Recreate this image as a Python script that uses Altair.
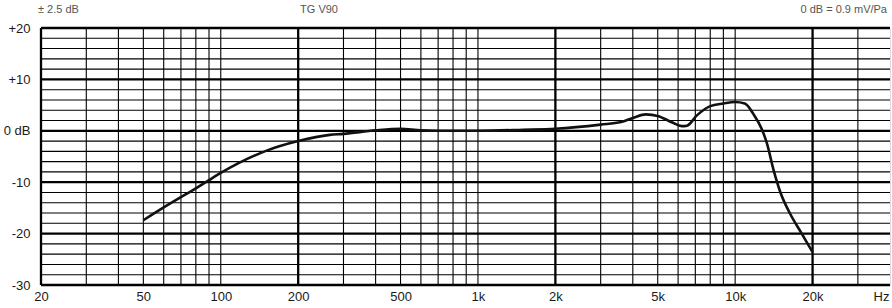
import altair as alt
import pandas as pd

# Frequency response curve (Hz, dB)
freq = [50, 60, 70, 80, 90, 100, 150, 200, 265, 300, 400, 500, 600, 800, 1000,
        1500, 2000, 3000, 3600, 4000, 4500, 5000, 5700, 6200, 6500, 7100, 8000,
        9000, 10000, 10900, 11800, 12700, 13300, 14100, 15000, 16300, 18100, 20000]
level = [-17.4, -14.9, -12.9, -11.2, -9.6, -8.2, -3.9, -2.0, -0.8, -0.6, 0.1, 0.4,
         0.1, 0.0, 0.0, 0.2, 0.4, 1.2, 1.7, 2.5, 3.2, 2.9, 1.6, 0.9, 1.0, 3.0, 4.8,
         5.3, 5.6, 5.3, 3.2, 0.3, -2.5, -7.6, -12.0, -16.0, -19.9, -23.6]

# Grid
grid_db_thin = [-28, -26, -24, -22, -18, -16, -14, -12, -8, -6, -4, -2,
                2, 4, 6, 8, 12, 14, 16, 18]
grid_db_thick = [-30, -20, -10, 0, 10, 20]
grid_hz_thin = [30, 40, 50, 60, 70, 80, 90, 100,
                300, 400, 500, 600, 700, 800, 900, 1000,
                3000, 4000, 5000, 6000, 7000, 8000, 9000, 10000, 30000]
grid_hz_thick = [20, 200, 2000, 20000]

# Axis labels
x_tick_values = [20, 50, 100, 200, 500, 1000, 2000, 5000, 10000, 20000, 36900]
y_tick_values = [-30, -20, -10, 0, 10, 20]

# Header texts
header_left = "± 2.5 dB"
header_center = "TG V90"
header_right = "0 dB = 0.9 mV/Pa"

xdom = [20, 40000]
ydom = [-30, 20]

xs = alt.Scale(type="log", domain=xdom, nice=False)
ys = alt.Scale(domain=ydom, nice=False, zero=False)

x_axis = alt.Axis(
    values=x_tick_values,
    labelExpr="datum.value > 30000 ? 'Hz' : (datum.value >= 1000 ? (datum.value/1000) + 'k' : '' + datum.value)",
    domain=False, ticks=False, grid=False, title=None,
    labelFlush=False, labelOverlap=False, labelPadding=5,
    labelFontSize=13, labelColor="#1a1a1a", labelFont="Liberation Sans",
)
y_axis = alt.Axis(
    values=y_tick_values,
    labelExpr="datum.value == 0 ? '0 dB' : (datum.value > 0 ? '+' + datum.value : '' + datum.value)",
    domain=False, ticks=False, grid=False, title=None,
    labelPadding=11, labelFontSize=13, labelColor="#1a1a1a",
    labelFont="Liberation Sans", labelBaseline="middle",
)

curve_df = pd.DataFrame({"f": freq, "db": level})

h_thin = alt.Chart(pd.DataFrame({"db": grid_db_thin})).mark_rule(
    color="#000", strokeWidth=1.1
).encode(y=alt.Y("db:Q", scale=ys, axis=y_axis))

h_thick = alt.Chart(pd.DataFrame({"db": grid_db_thick})).mark_rule(
    color="#000", strokeWidth=2.3
).encode(y=alt.Y("db:Q", scale=ys, axis=y_axis))

v_thin = alt.Chart(pd.DataFrame({"f": grid_hz_thin})).mark_rule(
    color="#000", strokeWidth=1.1
).encode(x=alt.X("f:Q", scale=xs, axis=x_axis))

v_thick = alt.Chart(pd.DataFrame({"f": grid_hz_thick})).mark_rule(
    color="#000", strokeWidth=2.3
).encode(x=alt.X("f:Q", scale=xs, axis=x_axis))

curve = alt.Chart(curve_df).mark_line(
    color="#111", strokeWidth=2.6, interpolate="monotone", clip=True
).encode(
    x=alt.X("f:Q", scale=xs, axis=x_axis),
    y=alt.Y("db:Q", scale=ys, axis=y_axis),
)

def header(txt, xpos, align):
    return alt.Chart(pd.DataFrame({"t": [txt]})).mark_text(
        align=align, baseline="alphabetic", fontSize=11,
        font="Liberation Sans", color="#555555"
    ).encode(x=alt.value(xpos), y=alt.value(-15.5), text="t:N")

chart = alt.layer(
    h_thin, v_thin, h_thick, v_thick, curve,
    header(header_left, -3, "left"),
    header(header_center, 278, "center"),
    header(header_right, 846, "right"),
).properties(
    width=849, height=257,
    autosize=alt.AutoSizeParams(type="none"),
    padding={"left": 41, "top": 28, "right": 2, "bottom": 23},
).configure_view(stroke=None).configure(background="white")

chart.save("out.html", embed_options={"renderer": "svg", "actions": False})
